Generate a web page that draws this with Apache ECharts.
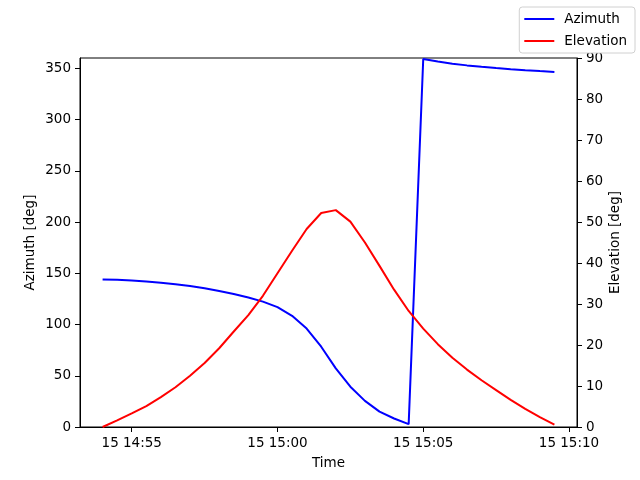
<!DOCTYPE html>
<html style="height: 100%">
<head>
    <meta charset="utf-8">
</head>
<body style="height: 100%; margin: 0">
<div id="container" style="width: 640px; height: 480px"></div>
<script type="text/javascript" src="https://cdn.jsdelivr.net/npm/echarts@6/dist/echarts.min.js"></script>
<script type="text/javascript">
    // sample times (day 15), every 30 s
    var times = ['14:54:00', '14:54:30', '14:55:00', '14:55:30', '14:56:00', '14:56:30',
        '14:57:00', '14:57:30', '14:58:00', '14:58:30', '14:59:00', '14:59:30',
        '15:00:00', '15:00:30', '15:01:00', '15:01:30', '15:02:00', '15:02:30',
        '15:03:00', '15:03:30', '15:04:00', '15:04:30', '15:05:00', '15:05:30',
        '15:06:00', '15:06:30', '15:07:00', '15:07:30', '15:08:00', '15:08:30',
        '15:09:00', '15:09:30'];

    var azimuth = [144, 143.6, 142.9, 142.0, 140.8, 139.3, 137.5, 135.3, 132.6, 129.7,
        126.3, 122.3, 117, 108.5, 96, 78.3, 57.2, 39.3, 25.5, 15, 8.3, 2.8,
        359, 356.5, 354.5, 352.8, 351.4, 350.2, 349.1, 348.1, 347.2, 346.4];

    var elevation = [0, 1.6, 3.3, 5.1, 7.3, 9.7, 12.5, 15.6, 19.2, 23.3, 27.3, 32.0,
        37.5, 43, 48.3, 52.2, 52.9, 50.1, 45, 39.3, 33.5, 28.3, 24, 20.2,
        16.9, 14, 11.4, 9.0, 6.6, 4.4, 2.4, 0.6];

    var timeTicks = ['14:55', '15:00', '15:05', '15:10'];
    var azTicks = [0, 50, 100, 150, 200, 250, 300, 350];

    // minutes since midnight
    function toMin(s) {
        var p = s.split(':');
        return +p[0] * 60 + +p[1] + (p[2] ? +p[2] / 60 : 0);
    }
    function pad(n) {
        return (n < 10 ? '0' : '') + n;
    }

    var azData = times.map(function (t, i) { return [toMin(t), azimuth[i]]; });
    var elData = times.map(function (t, i) { return [toMin(t), elevation[i]]; });
    var xTicks = timeTicks.map(toMin);

    var dom = document.getElementById("container");
    var myChart = echarts.init(dom);

    var font = 'DejaVu Sans';
    var axisCommon = {
        axisLine: {show: true, lineStyle: {color: '#000', width: 1}},
        axisTick: {show: true, length: 5, lineStyle: {color: '#000'}},
        splitLine: {show: false},
        nameMoveOverlap: false,
        nameTextStyle: {color: '#000', fontSize: 13.5, fontFamily: font}
    };

    var option = {
        animation: false,
        textStyle: {fontFamily: font},
        grid: {
            left: 80, right: 63, top: 58, bottom: 53,
            show: true, borderColor: '#000', borderWidth: 1,
            outerBoundsMode: 'none'
        },
        legend: {
            orient: 'vertical',
            right: 5,
            top: 7,
            data: ['Azimuth', 'Elevation'],
            icon: 'rect',
            itemWidth: 30,
            itemHeight: 2,
            itemGap: 8,
            padding: [5, 8, 5, 5],
            borderColor: '#d0d0d0',
            borderWidth: 1,
            borderRadius: 3,
            backgroundColor: '#fff',
            textStyle: {color: '#000', fontSize: 13.5, fontFamily: font, padding: [0, 0, 0, 5]}
        },
        xAxis: echarts.util.merge({
            type: 'value',
            min: toMin('14:53') + 13.5 / 60,
            max: toMin('15:10') + 16.5 / 60,
            name: 'Time',
            nameLocation: 'middle',
            nameGap: 29,
            axisLabel: {
                color: '#000', fontSize: 13.5, margin: 9,
                customValues: xTicks,
                formatter: function (v) {
                    var m = Math.round(v);
                    return '15 ' + pad(Math.floor(m / 60)) + ':' + pad(m % 60);
                }
            },
            axisTick: {customValues: xTicks}
        }, axisCommon),
        yAxis: [
            echarts.util.merge({
                type: 'value',
                position: 'left',
                min: 0,
                max: 360,
                name: 'Azimuth [deg]',
                nameLocation: 'middle',
                nameGap: 43,
                axisLabel: {color: '#000', fontSize: 13.5, margin: 9, customValues: azTicks},
                axisTick: {customValues: azTicks}
            }, axisCommon),
            echarts.util.merge({
                type: 'value',
                position: 'right',
                min: 0,
                max: 90,
                interval: 10,
                name: 'Elevation [deg]',
                nameLocation: 'middle',
                nameGap: 31,
                axisLabel: {color: '#000', fontSize: 13.5, margin: 9}
            }, axisCommon)
        ],
        series: [{
            name: 'Azimuth',
            type: 'line',
            data: azData,
            yAxisIndex: 0,
            symbol: 'none',
            color: '#0000ff',
            lineStyle: {color: '#0000ff', width: 2}
        }, {
            name: 'Elevation',
            type: 'line',
            data: elData,
            yAxisIndex: 1,
            symbol: 'none',
            color: '#ff0000',
            lineStyle: {color: '#ff0000', width: 2}
        }]
    };
    myChart.setOption(option);
</script>
</body>
</html>
